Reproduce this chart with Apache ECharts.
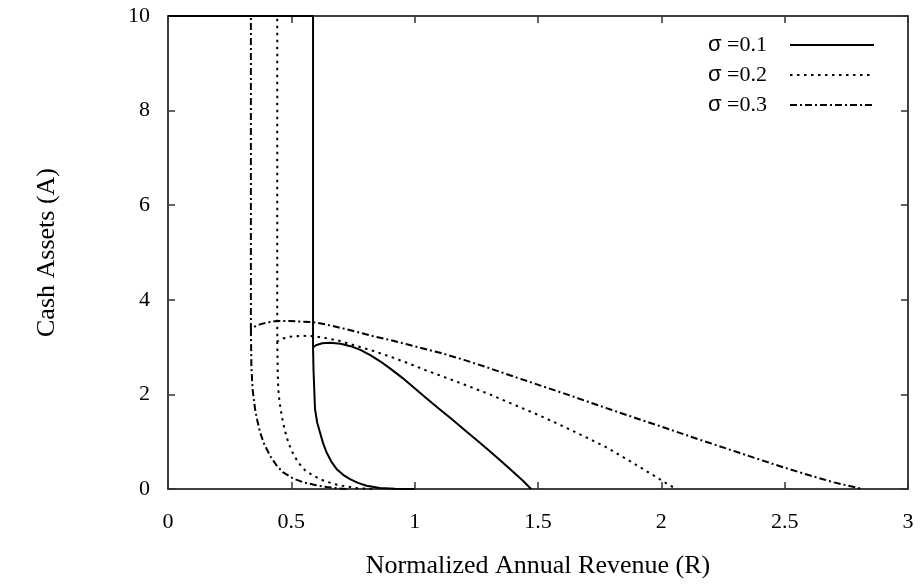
<!DOCTYPE html>
<html>
<head>
<meta charset="utf-8">
<script src="https://cdn.jsdelivr.net/npm/echarts@6/dist/echarts.min.js"></script>
<style>
  html, body { margin: 0; padding: 0; background: #fff; }
  #chart { width: 923px; height: 584px; }
</style>
</head>
<body>
<div id="chart"></div>
<script>
// Boundary curves (R, A) for each volatility level.
// "upper" runs along A = 10, down the vertical and over the hump to the R-intercept;
// "lower" is the inner branch that decays towards A = 0.
const upper01 = [[0,10],[0.588,10],[0.588,2.99],[0.60,3.04],[0.625,3.08],[0.657,3.09],[0.70,3.07],[0.74,3.02],[0.78,2.94],[0.82,2.83],[0.86,2.70],[0.90,2.55],[0.95,2.35],[1.0,2.13],[1.05,1.91],[1.1,1.69],[1.15,1.48],[1.2,1.26],[1.25,1.04],[1.3,0.82],[1.35,0.59],[1.4,0.36],[1.44,0.17],[1.472,0]];
const lower01 = [[0.588,2.99],[0.59,2.5],[0.596,1.69],[0.605,1.4],[0.616,1.20],[0.628,0.98],[0.643,0.77],[0.662,0.58],[0.684,0.42],[0.71,0.30],[0.738,0.21],[0.77,0.13],[0.805,0.07],[0.859,0.02],[0.92,0.005],[1.0,0]];

const upper02 = [[0,10],[0.443,10],[0.443,3.12],[0.465,3.18],[0.495,3.22],[0.54,3.24],[0.589,3.23],[0.64,3.19],[0.697,3.13],[0.76,3.03],[0.832,2.92],[0.9,2.80],[0.968,2.67],[1.05,2.50],[1.103,2.40],[1.2,2.21],[1.3,2.01],[1.4,1.79],[1.508,1.55],[1.6,1.33],[1.7,1.08],[1.778,0.88],[1.85,0.66],[1.92,0.44],[1.98,0.25],[2.03,0.09],[2.062,0]];
const lower02 = [[0.443,3.12],[0.445,2.4],[0.447,2.11],[0.452,1.85],[0.461,1.55],[0.473,1.25],[0.488,0.98],[0.505,0.77],[0.528,0.56],[0.555,0.40],[0.589,0.28],[0.63,0.18],[0.67,0.11],[0.715,0.06],[0.765,0.02],[0.83,0]];

const upper03 = [[0,10],[0.336,10],[0.336,3.38],[0.35,3.43],[0.373,3.48],[0.40,3.52],[0.44,3.55],[0.495,3.55],[0.583,3.53],[0.64,3.48],[0.697,3.41],[0.76,3.33],[0.832,3.23],[0.9,3.15],[0.968,3.06],[1.103,2.88],[1.2,2.73],[1.3,2.56],[1.4,2.38],[1.508,2.19],[1.6,2.03],[1.7,1.85],[1.8,1.67],[1.913,1.47],[2.0,1.32],[2.157,1.04],[2.25,0.88],[2.319,0.76],[2.4,0.62],[2.494,0.46],[2.6,0.29],[2.7,0.14],[2.815,0]];
const lower03 = [[0.336,3.38],[0.338,2.6],[0.343,2.11],[0.353,1.69],[0.362,1.45],[0.373,1.20],[0.39,0.95],[0.414,0.70],[0.44,0.50],[0.467,0.35],[0.505,0.23],[0.549,0.14],[0.6,0.08],[0.643,0.04],[0.69,0.015],[0.73,0]];

const seriesNames = ['σ =0.1', 'σ =0.2', 'σ =0.3'];
const xTicks = [0, 0.5, 1, 1.5, 2, 2.5, 3];
const yTicks = [0, 2, 4, 6, 8, 10];

const FONT = '"Liberation Serif", "DejaVu Serif", serif';
const dashStyles = ['solid', [2.5, 4.5], [7, 3, 2, 3]];
const curveSets = [[upper01, lower01], [upper02, lower02], [upper03, lower03]];

const series = [];
curveSets.forEach((pair, i) => {
  pair.forEach(points => {
    series.push({
      name: seriesNames[i],
      type: 'line',
      data: points,
      showSymbol: false,
      symbol: 'none',
      clip: true,
      lineStyle: { color: '#000', width: 2, type: dashStyles[i] },
      itemStyle: { color: '#000' },
      emphasis: { disabled: true }
    });
  });
});

const axisLine = { show: true, onZero: false, lineStyle: { color: '#000', width: 1.5 } };
const axisTick = { show: true, inside: true, length: 7, lineStyle: { color: '#333', width: 1.5 } };

const chart = echarts.init(document.getElementById('chart'), null, { renderer: 'canvas' });
chart.setOption({
  animation: false,
  backgroundColor: '#fff',
  grid: { left: 168, right: 15, top: 16, bottom: 94, containLabel: false },
  legend: {
    data: seriesNames,
    orient: 'vertical',
    right: 43,
    top: 29,
    align: 'right',
    itemWidth: 84,
    itemHeight: 14,
    itemGap: 8,
    selectedMode: false,
    itemStyle: { opacity: 0 },
    formatter: name => '{s|σ}{t| ' + name.replace('σ ', '') + '}',
    textStyle: {
      fontFamily: FONT, fontSize: 22, color: '#000', padding: [0, 18, 0, 0],
      rich: {
        s: { fontFamily: '"Liberation Sans", "DejaVu Sans", sans-serif', fontSize: 22, color: '#000' },
        t: { fontFamily: FONT, fontSize: 22, color: '#000' }
      }
    }
  },
  xAxis: [
    {
      type: 'value', min: xTicks[0], max: xTicks[xTicks.length - 1], interval: 0.5,
      name: 'Normalized Annual Revenue (R)', nameLocation: 'middle', nameGap: 64,
      nameTextStyle: { fontFamily: FONT, fontSize: 26, color: '#000' },
      axisLine, axisTick, splitLine: { show: false },
      axisLabel: { margin: 22, fontFamily: FONT, fontSize: 22, color: '#000',
        formatter: v => String(v) }
    },
    {
      type: 'value', position: 'top', min: xTicks[0], max: xTicks[xTicks.length - 1], interval: 0.5,
      axisLine, axisTick, splitLine: { show: false }, axisLabel: { show: false }
    }
  ],
  yAxis: [
    {
      type: 'value', min: yTicks[0], max: yTicks[yTicks.length - 1], interval: 2,
      name: 'Cash Assets (A)', nameLocation: 'middle', nameGap: 108,
      nameTextStyle: { fontFamily: FONT, fontSize: 26, color: '#000' },
      axisLine, axisTick, splitLine: { show: false },
      axisLabel: { margin: 18, fontFamily: FONT, fontSize: 22, color: '#000' }
    },
    {
      type: 'value', position: 'right', min: yTicks[0], max: yTicks[yTicks.length - 1], interval: 2,
      axisLine, axisTick, splitLine: { show: false }, axisLabel: { show: false }
    }
  ],
  series
});
</script>
</body>
</html>
